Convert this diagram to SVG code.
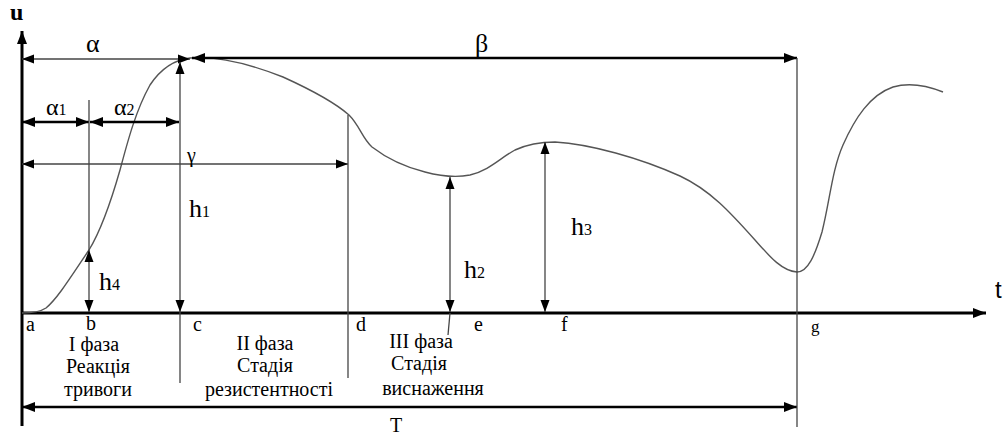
<svg xmlns="http://www.w3.org/2000/svg" width="1003" height="434" viewBox="0 0 1003 434">
<style>
.ax{stroke:#000;stroke-width:3;fill:none}
.thk{stroke:#000;stroke-width:2.6;fill:none}
.thn{stroke:#444;stroke-width:1.3;fill:none}
.cv{stroke:#555;stroke-width:1.4;fill:none}
text{font-family:"Liberation Serif","DejaVu Serif","Times New Roman",serif;fill:#000}
.big{font-size:26px}
.sub{font-size:16px}
.lbl{font-size:20px}
.ph{font-size:20px;text-anchor:middle}
</style>
<defs>
<marker id="ah" markerUnits="userSpaceOnUse" markerWidth="14" markerHeight="12" refX="13" refY="5" orient="auto-start-reverse" viewBox="0 0 14 10">
<path d="M0,0 L13,5 L0,10 z" fill="#000"/>
</marker>
<marker id="ahs" markerUnits="userSpaceOnUse" markerWidth="12" markerHeight="10" refX="12" refY="4.5" orient="auto-start-reverse" viewBox="0 0 12 9">
<path d="M0,0 L12,4.5 L0,9 z" fill="#000"/>
</marker>
</defs>
<rect width="1003" height="434" fill="#fff"/>

<g id="axes">
<line class="ax" x1="22" y1="426" x2="22" y2="31" marker-end="url(#ah)"/>
<line class="ax" x1="21" y1="313" x2="986" y2="313" marker-end="url(#ah)"/>
<text x="10" y="20" font-size="24" font-weight="bold">u</text>
<text x="995" y="298" font-size="24" style="font-family:'Liberation Sans',Arial,sans-serif">t</text>
</g>

<g id="curve">
<path class="cv" d="M22,313 C32,313 40,312 46,308 C58,298 72,275 89,250 C100,232 110,205 120,170 C128,140 136,110 150,85 C160,70 172,60 190,58 C215,56 245,62 283,77 C305,87 332,100 349,115 C360,126 362,138 372,147 C385,157 405,167 425,172 C440,176 455,178 470,175 C490,170 500,158 515,150 C528,144 540,142 555,142 C590,144 640,158 680,176 C710,190 730,212 755,240 C770,257 782,271 797,272 C808,272 815,255 822,232 C830,200 832,170 843,145 C855,118 870,95 893,87 C910,82 928,86 943,92"/>
</g>

<g id="connectors">
<line class="thn" x1="22" y1="59" x2="190" y2="59" marker-start="url(#ahs)" marker-end="url(#ahs)"/>
<line class="thk" x1="192" y1="58" x2="797" y2="58" marker-start="url(#ah)" marker-end="url(#ah)"/>
<line class="thk" x1="22" y1="122" x2="89" y2="122" marker-start="url(#ah)" marker-end="url(#ah)"/>
<line class="thk" x1="90" y1="122" x2="179" y2="122" marker-start="url(#ah)" marker-end="url(#ah)"/>
<line class="thn" x1="22" y1="164" x2="348" y2="164" marker-start="url(#ahs)" marker-end="url(#ahs)"/>
<line class="thk" x1="22" y1="407" x2="797" y2="407" marker-start="url(#ah)" marker-end="url(#ah)"/>
<line class="thn" x1="89" y1="100" x2="89" y2="250"/>
<line class="thn" x1="89" y1="250" x2="89" y2="312" marker-start="url(#ahs)" marker-end="url(#ahs)"/>
<line class="thn" x1="180" y1="62" x2="180" y2="312" marker-start="url(#ahs)" marker-end="url(#ahs)"/>
<line class="thn" x1="180" y1="312" x2="180" y2="383"/>
<line class="thn" x1="348" y1="115" x2="348" y2="378"/>
<line class="thn" x1="450" y1="177" x2="450" y2="312" marker-start="url(#ahs)" marker-end="url(#ahs)"/>
<line class="thn" x1="450" y1="313" x2="448" y2="335"/>
<line class="thn" x1="545" y1="142" x2="545" y2="312" marker-start="url(#ahs)" marker-end="url(#ahs)"/>
<line class="thn" x1="797" y1="58" x2="797" y2="427"/>
</g>

<g id="labels">
<text class="big" x="86" y="52">α</text>
<text class="big" x="475" y="52">β</text>
<text x="46" y="115" font-size="24">α<tspan class="sub">1</tspan></text>
<text x="114" y="115" font-size="24">α<tspan class="sub">2</tspan></text>
<text x="187" y="162" font-size="20">γ</text>
<text class="big" x="189" y="217">h<tspan class="sub">1</tspan></text>
<text class="big" x="99" y="290">h<tspan class="sub">4</tspan></text>
<text class="big" x="464" y="278">h<tspan class="sub">2</tspan></text>
<text class="big" x="571" y="235">h<tspan class="sub">3</tspan></text>
<text class="lbl" x="26" y="331">a</text>
<text class="lbl" x="86" y="330">b</text>
<text class="lbl" x="193" y="331">c</text>
<text class="lbl" x="356" y="331">d</text>
<text class="lbl" x="474" y="331">e</text>
<text class="lbl" x="561" y="331">f</text>
<text x="811" y="332" font-size="17">g</text>
<text class="lbl" x="390" y="432">T</text>
</g>

<g id="phase1">
<text class="ph" x="94" y="351">I фаза</text>
<text class="ph" x="98" y="373">Реакція</text>
<text class="ph" x="98" y="396">тривоги</text>
</g>
<g id="phase2">
<text class="ph" x="265" y="350">II фаза</text>
<text class="ph" x="265" y="372">Стадія</text>
<text class="ph" x="269" y="396">резистентності</text>
</g>
<g id="phase3">
<text class="ph" x="421" y="348">III фаза</text>
<text class="ph" x="419" y="370">Стадія</text>
<text class="ph" x="433" y="395">виснаження</text>
</g>
</svg>
